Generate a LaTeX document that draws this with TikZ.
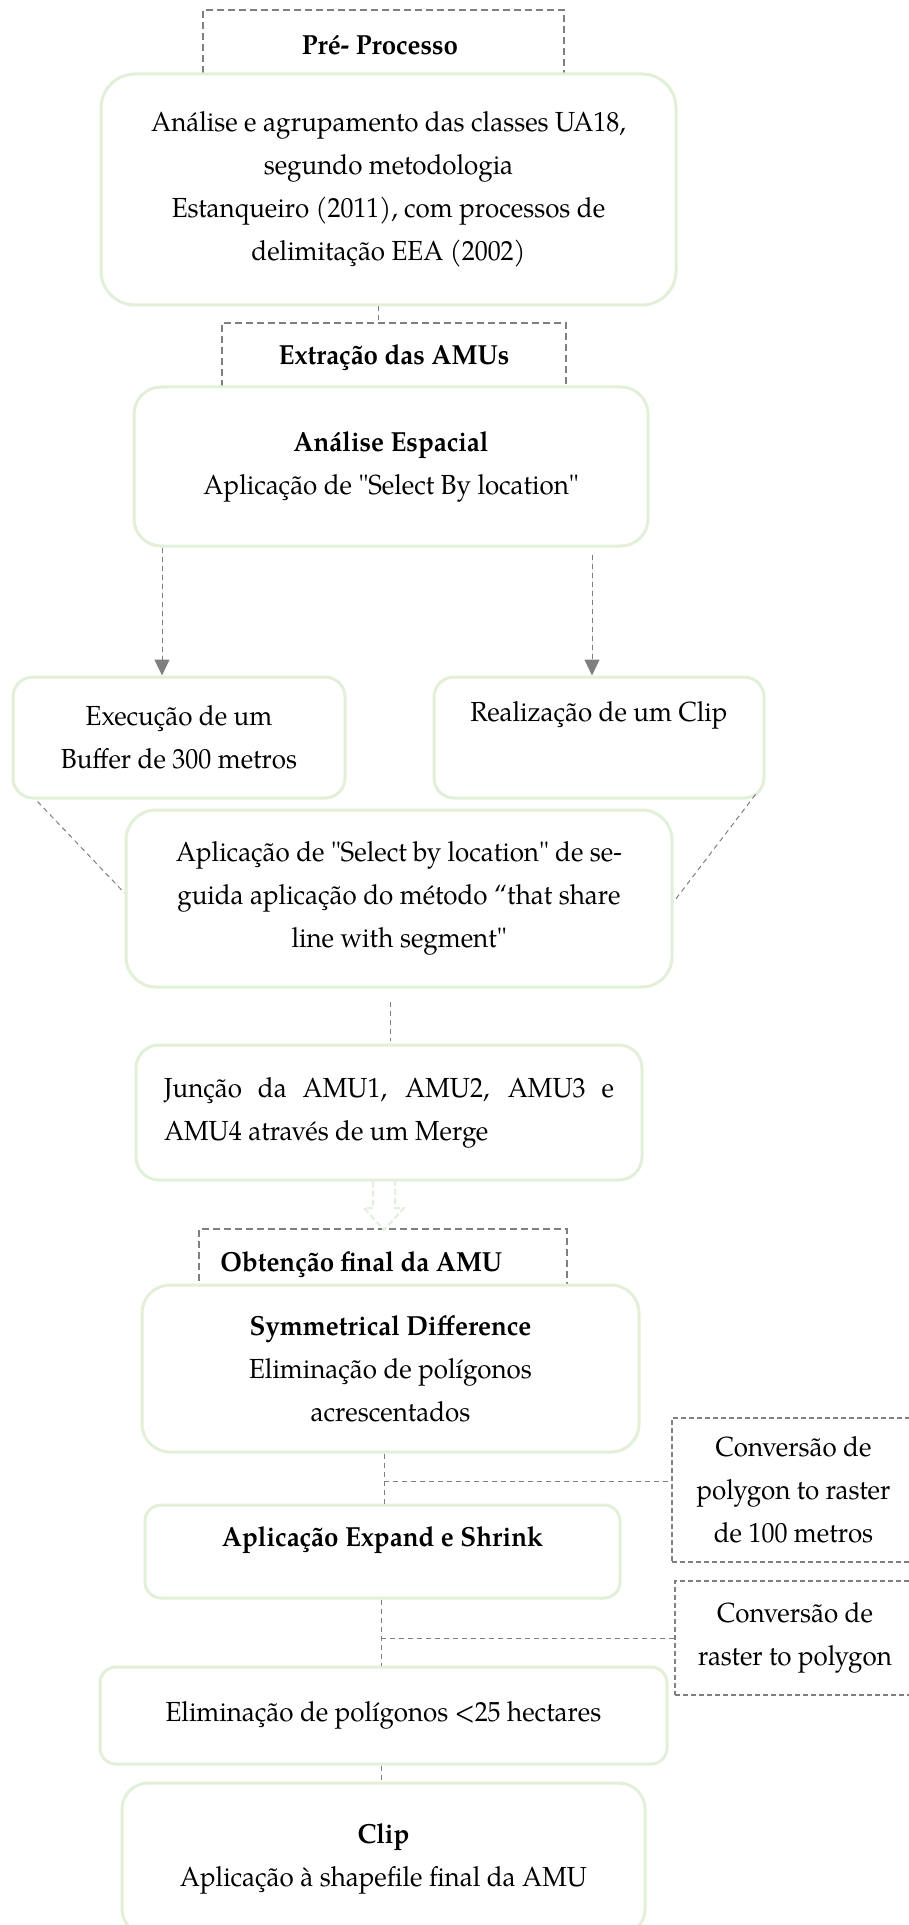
\documentclass[tikz,border=0pt]{standalone}
\usepackage{fontspec}
\setmainfont{texgyrepagella}[Extension=.otf, UprightFont=*-regular, BoldFont=*-bold, ItalicFont=*-italic, BoldItalicFont=*-bolditalic, Ligatures=TeXOff, FakeStretch=0.94]
\usetikzlibrary{calc,arrows.meta}
\definecolor{boxgreen}{HTML}{E2EFD9}
\definecolor{lngray}{HTML}{7F7F7F}
\newcommand{\tfont}{\fontsize{13.8}{21.5}\selectfont}
\begin{document}
\begin{tikzpicture}[x=0.5pt,y=-0.5pt,
  txt/.style={font=\tfont, align=center, inner sep=0pt},
  btxt/.style={font=\tfont\bfseries, align=center, inner sep=0pt},
  gbox/.style={draw=boxgreen, line width=1.5pt, fill=white, inner sep=0pt,
    font=\tfont, align=center},
  dbox/.style={draw=lngray, line width=1pt, dash pattern=on 3.5pt off 2pt, inner sep=0pt},
  sbox/.style={draw=lngray, line width=0.6pt, dash pattern=on 2.5pt off 1.5pt, inner sep=0pt, font=\tfont, align=center},
  conn/.style={draw=lngray, line width=0.5pt, dash pattern=on 2.5pt off 2pt},
  arr/.style={conn, -{Triangle[width=7.5pt,length=8pt]}, fill=lngray},
]
\useasboundingbox (0,0) rectangle (909,1925);

% ---------- Pré-Processo ----------
\node[dbox, minimum width=180.5pt, minimum height=40pt] (pre) at (383.5,50) {};
\node[btxt] (pret) at (380,45) {Pré- Processo};
\node[gbox, rounded corners=17pt, minimum width=287.5pt, minimum height=115.5pt] (b1) at (388.5,189.5)
  {Análise e agrupamento das classes UA18,\\ segundo metodologia\\ Estanqueiro (2011), com processos de\\ delimitação EEA (2002)};

% ---------- Extração ----------
\node[dbox, minimum width=172pt, minimum height=40pt] (ext) at (394,363) {};
\node[btxt] (extt) at (394,358) {Extração das AMUs};
\draw[conn] (378,0 |- b1.south) -- (378,0 |- ext.north);
\node[gbox, rounded corners=13.5pt, minimum width=257pt, minimum height=79.5pt] (b2) at (391,466.5)
  {\textbf{Análise Espacial}\\ Aplicação de "Select By location"};

% ---------- Buffer / Clip ----------
\node[gbox, rounded corners=10pt, minimum width=166pt, minimum height=60.5pt] (buf) at (179,737.5)
  {Execução de um\\ Buffer de 300 metros};
\node[gbox, rounded corners=10pt, minimum width=165pt, minimum height=60.5pt] (clp) at (599,737.5) {};
\node[txt] (clpt) at (599,715) {Realização de um Clip};
\draw[arr] (162,0 |- b2.south) -- (162,0 |- buf.north);
\draw[arr, shorten <=3.5pt] (592,0 |- b2.south) -- (592,0 |- clp.north);

% ---------- Select by location ----------
\node[gbox, rounded corners=15pt, minimum width=273pt, minimum height=88.5pt] (sel) at (399,898.5)
  {Aplicação de "Select by location" de se-\\ guida aplicação do método “that share\\ line with segment"};
\draw[conn] ($(buf.south west)+(26,2)$) -- (sel.west |- 0,893);
\draw[conn] ($(clp.south east)+(-10,-5)$) -- (sel.east |- 0,902);

% ---------- Junção ----------
\node[gbox, rounded corners=11.5pt, minimum width=253pt, minimum height=67.5pt, text width=225pt, align=justify] (jun) at (389,1112.5)
  {Junção da AMU1, AMU2, AMU3 e\linebreak AMU4 através de um Merge};
\draw[conn, shorten <=6.5pt, shorten >=1.5pt] (390,0 |- sel.south) -- (390,0 |- jun.north);

% ---------- Obtenção final ----------
\node[dbox, minimum width=184pt, minimum height=33pt] (obt) at (383,1262) {};
\node[btxt, anchor=west] (obtt) at (220,1265) {Obtenção final da AMU};
\draw[draw=boxgreen, line width=1pt, dash pattern=on 3pt off 1.5pt, fill=white, line join=miter]
  (373,0 |- jun.south) -- (373,1208) -- (364,1208) -- (384,1230) -- (404,1208) -- (395,1208) -- (395,0 |- jun.south);
\node[gbox, rounded corners=14pt, minimum width=248.5pt, minimum height=83.5pt] (sym) at (390.5,1368.5)
  {\textbf{Symmetrical Difference}\\ Eliminação de polígonos\\ acrescentados};

% ---------- Conversão 1 ----------
\node[sbox, minimum width=121.5pt, minimum height=72pt] (cv1) at (793.5,1490)
  {Conversão de\\ polygon to raster\\ de 100 metros};
\node[gbox, rounded corners=8pt, minimum width=237.5pt, minimum height=46.5pt] (exp) at (382.5,1551.5) {};
\node[btxt] (expt) at (382.5,1540) {Aplicação Expand e Shrink};
\coordinate (j1) at (384,1481);
\draw[conn] (384,0 |- sym.south) -- (384,0 |- exp.north);
\draw[conn] (j1) -- (cv1.west |- j1);

% ---------- Conversão 2 ----------
\node[sbox, minimum width=120pt, minimum height=57pt] (cv2) at (795,1638)
  {Conversão de\\ raster to polygon};
\node[gbox, rounded corners=8pt, minimum width=283.5pt, minimum height=48.5pt] (eli) at (383.5,1715.5)
  {Eliminação de polígonos <25 hectares};
\coordinate (j2) at (381,1638);
\draw[conn] (381,0 |- exp.south) -- (381,0 |- eli.north);
\draw[conn] (j2) -- (cv2.west |- j2);

% ---------- Clip final ----------
\node[gbox, rounded corners=13pt, minimum width=261.5pt, minimum height=76pt] (clf) at (383.5,1859)
  {\textbf{Clip}\\ Aplicação à shapefile final da AMU};
\draw[conn] (381,0 |- eli.south) -- (381,0 |- clf.north);
\end{tikzpicture}
\end{document}
